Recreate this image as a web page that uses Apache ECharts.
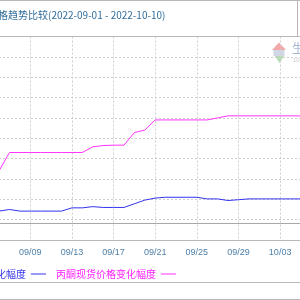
<!DOCTYPE html>
<html>
<head>
<meta charset="utf-8">
<script src="https://cdn.jsdelivr.net/npm/echarts@6/dist/echarts.min.js"></script>
<style>
html,body{margin:0;padding:0;background:#fff;overflow:hidden;width:300px;height:300px;position:relative;}
#c{width:606px;height:300px;position:absolute;left:-153px;top:0;}
</style>
</head>
<body>
<div id="c"></div>
<script>
// Dates 2022-09-01 .. 2022-10-10
var categories = ["09/01","09/02","09/03","09/04","09/05","09/06","09/07","09/08","09/09","09/10",
  "09/11","09/12","09/13","09/14","09/15","09/16","09/17","09/18","09/19","09/20",
  "09/21","09/22","09/23","09/24","09/25","09/26","09/27","09/28","09/29","09/30",
  "10/01","10/02","10/03","10/04","10/05","10/06","10/07","10/08","10/09","10/10"];
var seriesNames = ["苯酚现货价格变化幅度", "丙酮现货价格变化幅度"];
// % change (blue series)
var blueValues = [0,1.5,2.5,2.5,3.0,3.1,3.5,3.1,3.1,3.1,
  3.1,3.1,3.9,3.9,4.2,4.0,4.0,4.0,4.9,5.8,
  6.3,6.5,6.5,6.5,6.5,6.1,6.1,5.7,5.9,6.1,
  6.1,6.1,6.1,6.1,6.1,6.1,6.1,6.1,6.1,6.1];
// % change (magenta series)
var pinkValues = [0,0.5,1.5,1.5,6.0,13.0,17.5,17.5,17.5,17.5,
  17.5,17.5,17.5,17.5,18.9,19.2,19.3,19.3,22.4,23.0,
  25.5,25.5,25.5,25.5,25.5,25.5,26.0,26.5,26.5,26.5,
  26.5,26.5,26.5,26.5,26.5,26.5,26.5,26.5,26.5,26.5];
var titleText = "丙酮与苯酚价格趋势比较(2022-09-01 - 2022-10-10)";

var OX = 153; // page x = container x - OX
var chart = echarts.init(document.getElementById('c'), null, {renderer: 'canvas'});
var gridLineStyle = {color: '#cfcfcf', type: [2, 2], width: 1};
var frameColor = '#b8b8b8';
var lineIcon = 'path://M0,0h0.01v0.01h-0.01z M0,5.5h15v1h-15z M15,12h0.01v0.01h-0.01z';
chart.setOption({
  animation: false,
  backgroundColor: '#fff',
  title: {
    text: titleText, left: OX - 67, top: 5,
    textStyle: {fontFamily: 'Noto Sans CJK SC', fontSize: 10, fontWeight: 'normal', color: '#336f9c'}
  },
  legend: {
    data: [{name: seriesNames[0], icon: lineIcon, textStyle: {color: '#3333ee'}},
           {name: seriesNames[1], icon: lineIcon, textStyle: {color: '#ff22ff'}}],
    left: OX - 79, top: 263, align: 'right',
    itemWidth: 15, itemHeight: 12, itemGap: 10,
    textStyle: {fontFamily: 'Noto Sans CJK SC', fontSize: 10}
  },
  grid: {left: OX - 53, right: 606 - OX - 353, top: 36.5, bottom: 60, containLabel: false},
  xAxis: [{
    type: 'category', data: categories, boundaryGap: false,
    axisLine: {onZero: false, lineStyle: {color: frameColor, width: 1}},
    axisTick: {show: false},
    axisLabel: {interval: 3, margin: 8, fontFamily: 'Liberation Sans', fontSize: 9, color: '#4f80a8'},
    splitLine: {show: true, interval: 3, lineStyle: gridLineStyle}
  }, {
    type: 'category', data: categories, boundaryGap: false, position: 'top',
    axisLine: {onZero: false, lineStyle: {color: frameColor, width: 1}},
    axisTick: {show: false}, axisLabel: {show: false}, splitLine: {show: false}
  }],
  yAxis: [{
    type: 'value', min: 0, max: 10, interval: 1,
    axisLine: {show: false}, axisTick: {show: false}, axisLabel: {show: false},
    splitLine: {show: true, lineStyle: gridLineStyle}
  }, {
    type: 'value', min: -4, max: 46, show: false, splitLine: {show: false}
  }],
  series: [{
    name: seriesNames[0], type: 'line', data: blueValues, yAxisIndex: 1,
    symbol: 'none', lineStyle: {color: '#3333ee', width: 1}, itemStyle: {color: '#3333ee'},
    markLine: {silent: true, symbol: 'none', label: {show: false},
      lineStyle: {color: '#a8a8a8', type: 'solid', width: 1}, data: [{yAxis: 0}]}
  }, {
    name: seriesNames[1], type: 'line', data: pinkValues, yAxisIndex: 1,
    symbol: 'none', lineStyle: {color: '#ff33ff', width: 1}, itemStyle: {color: '#ff33ff'}
  }],
  graphic: [
    {type: 'line', shape: {x1: 0, y1: 0.5, x2: 606, y2: 0.5}, style: {stroke: frameColor, lineWidth: 1}},
    {type: 'line', shape: {x1: OX + 297.5, y1: 0, x2: OX + 297.5, y2: 36.5}, style: {stroke: frameColor, lineWidth: 1}},
    {type: 'line', shape: {x1: 0, y1: 282.5, x2: 606, y2: 282.5}, style: {stroke: frameColor, lineWidth: 1}},
    {type: 'line', shape: {x1: 0, y1: 299.5, x2: 606, y2: 299.5}, style: {stroke: frameColor, lineWidth: 1}},
    {type: 'group', silent: true, children: [
      {type: 'polygon', shape: {points: [[OX + 272, 50], [OX + 279, 42.5], [OX + 286, 50]]}, style: {fill: '#f2a8a8'}},
      {type: 'rect', shape: {x: OX + 273.5, y: 50, width: 11, height: 6}, style: {fill: '#d0d8e6'}},
      {type: 'polygon', shape: {points: [[OX + 275, 56], [OX + 284, 56], [OX + 279.5, 63]]}, style: {fill: '#b4dcb4'}},
      {type: 'text', x: OX + 292, y: 42, style: {text: '生', fontSize: 12, fontFamily: 'Noto Sans CJK SC', fill: '#a9b9cf'}},
      {type: 'text', x: OX + 293, y: 57, style: {text: '10', fontSize: 6, fontFamily: 'Liberation Sans', fill: '#c8c8c8'}}
    ]}
  ]
});
</script>
</body>
</html>
